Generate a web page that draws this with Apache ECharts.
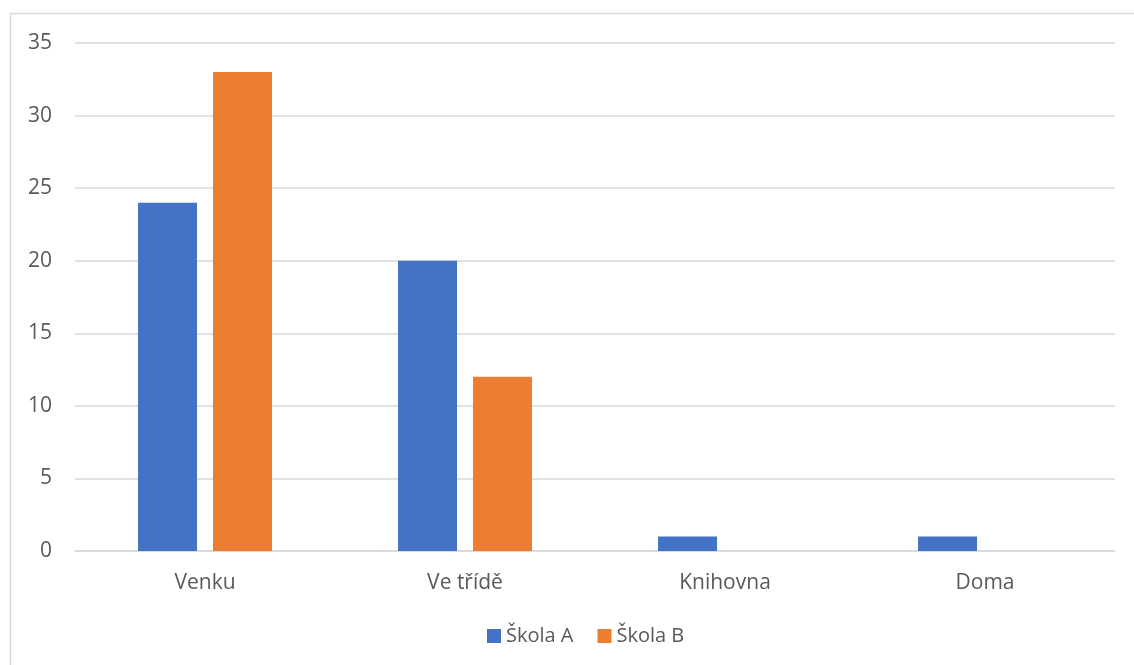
<!DOCTYPE html>
<html><head><meta charset="utf-8">
<script src="https://cdn.jsdelivr.net/npm/echarts@6/dist/echarts.min.js"></script>
<style>html,body{margin:0;padding:0;background:#fff}#c{width:1134px;height:665px}</style>
</head><body><div id="c"></div>
<script>
const categories = ['Venku', 'Ve třídě', 'Knihovna', 'Doma'];
const skolaA = [24, 20, 1, 1];
const skolaB = [33, 12, 0, 0];
const seriesNames = ['Škola A', 'Škola B'];
const font = '"Open Sans", "Liberation Sans", sans-serif';
const chart = echarts.init(document.getElementById('c'));
chart.setOption({
  animation: false,
  graphic: [{type:'rect', shape:{x:10.5,y:13.5,width:1140,height:700}, style:{fill:'none', stroke:'#d9d9d9', lineWidth:1.5}, silent:true}],
  grid: {left: 75, right: 19, top: 43, bottom: 114, containLabel: false},
  legend: {bottom: 14, left: 482, itemWidth: 14, itemHeight: 14, itemGap: 24, icon: 'rect',
    textStyle: {fontFamily: font, fontSize: 20, color: '#595959'}, data: seriesNames},
  xAxis: {type: 'category', data: categories,
    axisLine: {lineStyle: {color: '#d9d9d9', width: 1.5}}, axisTick: {show: false},
    axisLabel: {fontFamily: font, fontSize: 21, color: '#595959', margin: 22}},
  yAxis: {type: 'value', min: 0, max: 35, interval: 5,
    axisLine: {show: false}, axisTick: {show: false},
    splitLine: {lineStyle: {color: '#d9d9d9', width: 1.5}},
    axisLabel: {fontFamily: font, fontSize: 21, color: '#595959', margin: 23}},
  series: [
    {name: seriesNames[0], type: 'bar', data: skolaA, barWidth: 59, barGap: '27%', itemStyle: {color: '#4472c4'}},
    {name: seriesNames[1], type: 'bar', data: skolaB, barWidth: 59, itemStyle: {color: '#ed7d31'}}
  ]
});
</script></body></html>
